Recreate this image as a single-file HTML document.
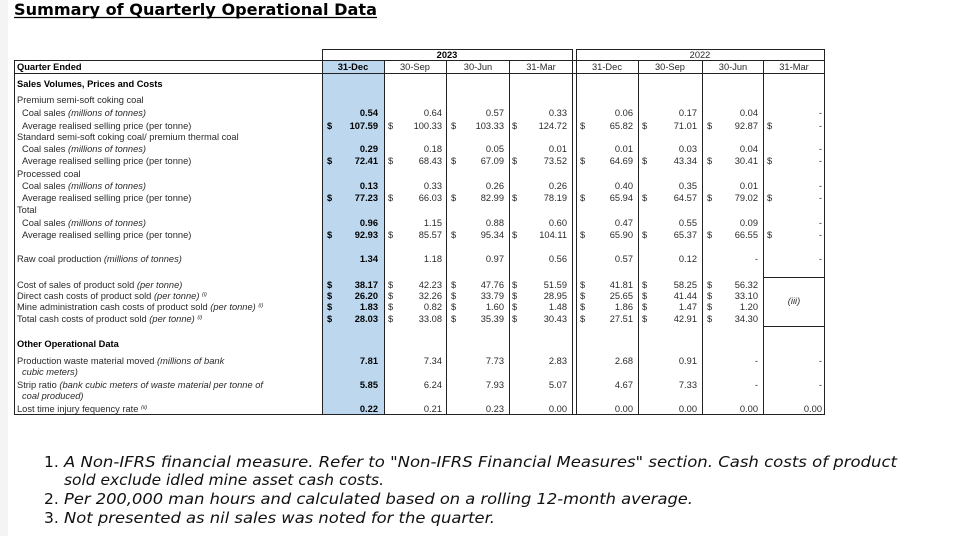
<!DOCTYPE html>
<html><head><meta charset="utf-8"><style>
html,body{margin:0;padding:0;background:#fff;width:960px;height:536px;overflow:hidden}
svg{display:block}
.t{font-family:"Liberation Sans",Arial,sans-serif;font-size:9.3px;fill:#2a2a2a}
.b{font-weight:bold;fill:#000}
.r{text-anchor:end}
.i{font-style:italic}
.f{font-family:"DejaVu Sans",Verdana,sans-serif;font-size:15.5px;fill:#111}
</style></head><body>
<svg width="960" height="536" xmlns="http://www.w3.org/2000/svg">
<rect x="0" y="0" width="8" height="536" fill="#f4f4f4"/>
<text x="14" y="15" font-family="DejaVu Sans,Verdana,sans-serif" font-weight="bold" font-size="16" textLength="363" lengthAdjust="spacingAndGlyphs" fill="#000">Summary of Quarterly Operational Data</text>
<line x1="14" y1="17.5" x2="377" y2="17.5" stroke="#000" stroke-width="1.3"/>

<rect x="322" y="60" width="62" height="354" fill="#bdd7ee"/>
<g stroke="#222" stroke-width="1" fill="none">
<line x1="322" y1="49.5" x2="572" y2="49.5"/>
<line x1="576" y1="49.5" x2="825" y2="49.5"/>
<line x1="14" y1="60.5" x2="825" y2="60.5"/>
<line x1="14" y1="73.5" x2="825" y2="73.5"/>
<line x1="14" y1="414.5" x2="825" y2="414.5"/>
<line x1="14.5" y1="60" x2="14.5" y2="415"/>
<line x1="322.5" y1="49" x2="322.5" y2="415"/>
<line x1="384.5" y1="60" x2="384.5" y2="415"/>
<line x1="446.5" y1="60" x2="446.5" y2="415"/>
<line x1="509.5" y1="60" x2="509.5" y2="415"/>
<line x1="572.5" y1="49" x2="572.5" y2="415"/>
<line x1="576.5" y1="49" x2="576.5" y2="415"/>
<line x1="638.5" y1="60" x2="638.5" y2="415"/>
<line x1="702.5" y1="60" x2="702.5" y2="415"/>
<line x1="763.5" y1="60" x2="763.5" y2="415"/>
<line x1="824.5" y1="49" x2="824.5" y2="415"/>
<line x1="763" y1="277.5" x2="825" y2="277.5"/>
<line x1="763" y1="326.5" x2="825" y2="326.5"/>
</g>

<text class="t b" x="447" y="58" text-anchor="middle">2023</text>
<text class="t" x="700" y="58" text-anchor="middle">2022</text>
<text class="t b" x="17" y="70">Quarter Ended</text>
<text class="t b" x="353" y="70" text-anchor="middle">31-Dec</text>
<text class="t" x="415" y="70" text-anchor="middle">30-Sep</text>
<text class="t" x="478" y="70" text-anchor="middle">30-Jun</text>
<text class="t" x="541" y="70" text-anchor="middle">31-Mar</text>
<text class="t" x="607" y="70" text-anchor="middle">31-Dec</text>
<text class="t" x="670" y="70" text-anchor="middle">30-Sep</text>
<text class="t" x="733" y="70" text-anchor="middle">30-Jun</text>
<text class="t" x="794" y="70" text-anchor="middle">31-Mar</text>

<g class="t">
<text class="b" x="17" y="87">Sales Volumes, Prices and Costs</text>
<text x="17" y="103">Premium semi-soft coking coal</text>
<text x="22" y="116">Coal sales <tspan class="i">(millions of tonnes)</tspan></text>
<text x="22" y="129">Average realised selling price (per tonne)</text>
<text x="17" y="140">Standard semi-soft coking coal/ premium thermal coal</text>
<text x="22" y="152">Coal sales <tspan class="i">(millions of tonnes)</tspan></text>
<text x="22" y="164">Average realised selling price (per tonne)</text>
<text x="17" y="177">Processed coal</text>
<text x="22" y="189">Coal sales <tspan class="i">(millions of tonnes)</tspan></text>
<text x="22" y="201">Average realised selling price (per tonne)</text>
<text x="17" y="213">Total</text>
<text x="22" y="226">Coal sales <tspan class="i">(millions of tonnes)</tspan></text>
<text x="22" y="238">Average realised selling price (per tonne)</text>
<text x="17" y="262">Raw coal production <tspan class="i">(millions of tonnes)</tspan></text>
<text x="17" y="288">Cost of sales of product sold <tspan class="i">(per tonne)</tspan></text>
<text x="17" y="299">Direct cash costs of product sold <tspan class="i">(per tonne) <tspan font-size="5.5" dy="-3">(i)</tspan></tspan></text>
<text x="17" y="310">Mine administration cash costs of product sold <tspan class="i">(per tonne) <tspan font-size="5.5" dy="-3">(i)</tspan></tspan></text>
<text x="17" y="322">Total cash costs of product sold <tspan class="i">(per tonne) <tspan font-size="5.5" dy="-3">(i)</tspan></tspan></text>
<text class="b" x="17" y="347">Other Operational Data</text>
<text x="17" y="364">Production waste material moved <tspan class="i">(millions of bank</tspan></text>
<text class="i" x="22" y="375">cubic meters)</text>
<text x="17" y="388">Strip ratio <tspan class="i">(bank cubic meters of waste material per tonne of</tspan></text>
<text class="i" x="22" y="399">coal produced)</text>
<text x="17" y="412">Lost time injury fequency rate <tspan class="i" font-size="5.5" dy="-3">(ii)</tspan></text>
</g>

<g class="t">
<g><text class="b" x="327" y="129">$</text><text x="388" y="129">$</text><text x="451" y="129">$</text><text x="512" y="129">$</text><text x="580" y="129">$</text><text x="642" y="129">$</text><text x="707" y="129">$</text><text x="767" y="129">$</text></g>
<g><text class="b" x="327" y="164">$</text><text x="388" y="164">$</text><text x="451" y="164">$</text><text x="512" y="164">$</text><text x="580" y="164">$</text><text x="642" y="164">$</text><text x="707" y="164">$</text><text x="767" y="164">$</text></g>
<g><text class="b" x="327" y="201">$</text><text x="388" y="201">$</text><text x="451" y="201">$</text><text x="512" y="201">$</text><text x="580" y="201">$</text><text x="642" y="201">$</text><text x="707" y="201">$</text><text x="767" y="201">$</text></g>
<g><text class="b" x="327" y="238">$</text><text x="388" y="238">$</text><text x="451" y="238">$</text><text x="512" y="238">$</text><text x="580" y="238">$</text><text x="642" y="238">$</text><text x="707" y="238">$</text><text x="767" y="238">$</text></g>
<g><text class="b" x="327" y="288">$</text><text x="388" y="288">$</text><text x="451" y="288">$</text><text x="512" y="288">$</text><text x="580" y="288">$</text><text x="642" y="288">$</text><text x="707" y="288">$</text></g>
<g><text class="b" x="327" y="299">$</text><text x="388" y="299">$</text><text x="451" y="299">$</text><text x="512" y="299">$</text><text x="580" y="299">$</text><text x="642" y="299">$</text><text x="707" y="299">$</text></g>
<g><text class="b" x="327" y="310">$</text><text x="388" y="310">$</text><text x="451" y="310">$</text><text x="512" y="310">$</text><text x="580" y="310">$</text><text x="642" y="310">$</text><text x="707" y="310">$</text></g>
<g><text class="b" x="327" y="322">$</text><text x="388" y="322">$</text><text x="451" y="322">$</text><text x="512" y="322">$</text><text x="580" y="322">$</text><text x="642" y="322">$</text><text x="707" y="322">$</text></g>
</g>

<g class="t r">
<g transform="translate(0,116)"><text class="b" x="378">0.54</text><text x="442">0.64</text><text x="504">0.57</text><text x="567">0.33</text><text x="633">0.06</text><text x="697">0.17</text><text x="758">0.04</text><text x="822">-</text></g>
<g transform="translate(0,129)"><text class="b" x="378">107.59</text><text x="442">100.33</text><text x="504">103.33</text><text x="567">124.72</text><text x="633">65.82</text><text x="697">71.01</text><text x="758">92.87</text><text x="822">-</text></g>
<g transform="translate(0,152)"><text class="b" x="378">0.29</text><text x="442">0.18</text><text x="504">0.05</text><text x="567">0.01</text><text x="633">0.01</text><text x="697">0.03</text><text x="758">0.04</text><text x="822">-</text></g>
<g transform="translate(0,164)"><text class="b" x="378">72.41</text><text x="442">68.43</text><text x="504">67.09</text><text x="567">73.52</text><text x="633">64.69</text><text x="697">43.34</text><text x="758">30.41</text><text x="822">-</text></g>
<g transform="translate(0,189)"><text class="b" x="378">0.13</text><text x="442">0.33</text><text x="504">0.26</text><text x="567">0.26</text><text x="633">0.40</text><text x="697">0.35</text><text x="758">0.01</text><text x="822">-</text></g>
<g transform="translate(0,201)"><text class="b" x="378">77.23</text><text x="442">66.03</text><text x="504">82.99</text><text x="567">78.19</text><text x="633">65.94</text><text x="697">64.57</text><text x="758">79.02</text><text x="822">-</text></g>
<g transform="translate(0,226)"><text class="b" x="378">0.96</text><text x="442">1.15</text><text x="504">0.88</text><text x="567">0.60</text><text x="633">0.47</text><text x="697">0.55</text><text x="758">0.09</text><text x="822">-</text></g>
<g transform="translate(0,238)"><text class="b" x="378">92.93</text><text x="442">85.57</text><text x="504">95.34</text><text x="567">104.11</text><text x="633">65.90</text><text x="697">65.37</text><text x="758">66.55</text><text x="822">-</text></g>
<g transform="translate(0,262)"><text class="b" x="378">1.34</text><text x="442">1.18</text><text x="504">0.97</text><text x="567">0.56</text><text x="633">0.57</text><text x="697">0.12</text><text x="758">-</text><text x="822">-</text></g>
<g transform="translate(0,288)"><text class="b" x="378">38.17</text><text x="442">42.23</text><text x="504">47.76</text><text x="567">51.59</text><text x="633">41.81</text><text x="697">58.25</text><text x="758">56.32</text></g>
<g transform="translate(0,299)"><text class="b" x="378">26.20</text><text x="442">32.26</text><text x="504">33.79</text><text x="567">28.95</text><text x="633">25.65</text><text x="697">41.44</text><text x="758">33.10</text></g>
<g transform="translate(0,310)"><text class="b" x="378">1.83</text><text x="442">0.82</text><text x="504">1.60</text><text x="567">1.48</text><text x="633">1.86</text><text x="697">1.47</text><text x="758">1.20</text></g>
<g transform="translate(0,322)"><text class="b" x="378">28.03</text><text x="442">33.08</text><text x="504">35.39</text><text x="567">30.43</text><text x="633">27.51</text><text x="697">42.91</text><text x="758">34.30</text></g>
<g transform="translate(0,364)"><text class="b" x="378">7.81</text><text x="442">7.34</text><text x="504">7.73</text><text x="567">2.83</text><text x="633">2.68</text><text x="697">0.91</text><text x="758">-</text><text x="822">-</text></g>
<g transform="translate(0,388)"><text class="b" x="378">5.85</text><text x="442">6.24</text><text x="504">7.93</text><text x="567">5.07</text><text x="633">4.67</text><text x="697">7.33</text><text x="758">-</text><text x="822">-</text></g>
<g transform="translate(0,412)"><text class="b" x="378">0.22</text><text x="442">0.21</text><text x="504">0.23</text><text x="567">0.00</text><text x="633">0.00</text><text x="697">0.00</text><text x="758">0.00</text><text x="822">0.00</text></g>
</g>
<text class="t i" x="794" y="304" text-anchor="middle" font-size="7.5">(iii)</text>

<text class="f" x="44" y="467">1.</text>
<text class="f" x="64" y="467" font-style="italic" textLength="833" lengthAdjust="spacingAndGlyphs">A Non-IFRS financial measure. Refer to "Non-IFRS Financial Measures" section. Cash costs of product</text>
<text class="f" x="64" y="485" font-style="italic" textLength="320" lengthAdjust="spacingAndGlyphs">sold exclude idled mine asset cash costs.</text>
<text class="f" x="44" y="504">2.</text>
<text class="f" x="64" y="504" font-style="italic" textLength="629" lengthAdjust="spacingAndGlyphs">Per 200,000 man hours and calculated based on a rolling 12-month average.</text>
<text class="f" x="44" y="523">3.</text>
<text class="f" x="64" y="523" font-style="italic" textLength="431" lengthAdjust="spacingAndGlyphs">Not presented as nil sales was noted for the quarter.</text>
</svg>
</body></html>
